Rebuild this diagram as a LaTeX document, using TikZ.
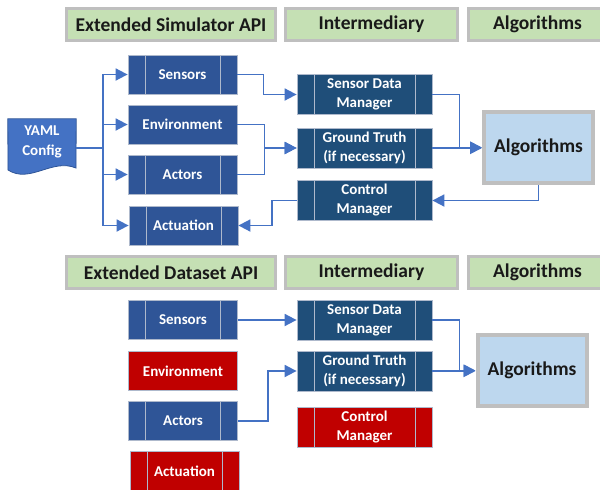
\documentclass[tikz,border=0pt]{standalone}
\usepackage{fontspec}
\setmainfont{Carlito}
\usepackage{tikz}
\usetikzlibrary{arrows.meta, positioning, calc}
\definecolor{HeadGreen}{HTML}{C5E0B4}
\definecolor{HeadGray}{HTML}{BFBFBF}
\definecolor{ApiBlue}{HTML}{2F5597}
\definecolor{MidBlue}{HTML}{1F4E79}
\definecolor{LineBlue}{HTML}{4472C4}
\definecolor{AlgBlue}{HTML}{BDD7EE}
\definecolor{OffRed}{HTML}{C00000}
\definecolor{EdgeGray}{HTML}{AEB9CC}

\begin{document}
\begin{tikzpicture}[x=1pt, y=-1pt,
    hdr/.style={rectangle, fill=HeadGreen, draw=HeadGray, line width=3pt,
        minimum width=#1, minimum height=32pt, inner sep=0pt,
        font=\fontsize{19.5}{22}\selectfont\bfseries, text=black!90},
    hdr/.default=172pt,
    plainbox/.style={rectangle, fill=#1, draw=EdgeGray, line width=0.8pt,
        minimum width=109pt, minimum height=39pt, inner sep=0pt, text=white,
        align=center, font=\fontsize{15}{19}\selectfont\bfseries},
    procbox/.style={plainbox=#1,
        path picture={
            \draw[EdgeGray, line width=0.8pt]
                ([xshift=17pt]path picture bounding box.north west) --
                ([xshift=17pt]path picture bounding box.south west)
                ([xshift=-17pt]path picture bounding box.north east) --
                ([xshift=-17pt]path picture bounding box.south east);}},
    midbox/.style={procbox=#1, minimum width=135pt, minimum height=40pt},
    algbox/.style={rectangle, fill=AlgBlue, draw=HeadGray, line width=4pt,
        minimum width=109pt, minimum height=71pt,
        font=\fontsize{19.5}{22}\selectfont\bfseries, text=black!90},
    flow/.style={-{Triangle[length=12pt, width=12pt]}, line width=1.8pt, LineBlue},
    wire/.style={line width=1.8pt, LineBlue}]

    \useasboundingbox (0,0) rectangle (600,490);

    % Headers
    \node[hdr=209pt] (hsim) at (171,24.5) {Extended Simulator API};
    \node[hdr] (hint) at (371.5,24.5) {Intermediary};
    \node[hdr=138pt] (halg) at (537.5,24.5) {Algorithms};

    \node[hdr=209pt] (hdat) at (171,272.5) {Extended Dataset API};
    \node[hdr] (hint2) at (371.5,272.5) {Intermediary};
    \node[hdr=138pt] (halg2) at (537.5,272.5) {Algorithms};

    % Simulator side
    \node[rectangle, minimum width=68pt, minimum height=53pt, inner sep=0pt]
          (yaml) at (42,145.5) {};
    \filldraw[fill=LineBlue, draw=ApiBlue, line width=0.8pt]
        (yaml.north west) -- (yaml.north east) -- (76,168)
        .. controls (52,158) and (30,184) .. (8,170) -- cycle;
    \node[text=white, align=center, font=\fontsize{15}{20}\selectfont\bfseries]
        (yamltext) at (42,142) {YAML\\Config};

    \node[procbox=ApiBlue] (sens1) at (182.5,74.5) {Sensors};
    \node[plainbox=ApiBlue] (env1) at (182.5,124.5) {Environment};
    \node[procbox=ApiBlue] (act1) at (182.5,174.5) {Actors};
    \node[procbox=ApiBlue] (actu1) at (183.5,225.5) {Actuation};

    \node[midbox=MidBlue] (sdm1) at (364.5,94.5) {Sensor Data\\Manager};
    \node[midbox=MidBlue] (gt1) at (364.5,148) {Ground Truth\\(if necessary)};
    \node[midbox=MidBlue] (cm1) at (364.5,200.5) {Control\\Manager};

    \node[algbox] (alg1) at (538.5,147.5) {Algorithms};

    % Dataset side
    \node[procbox=ApiBlue] (sens2) at (183,320) {Sensors};
    \node[plainbox=OffRed] (env2) at (183,371) {Environment};
    \node[procbox=ApiBlue] (act2) at (183,421) {Actors};
    \node[procbox=OffRed] (actu2) at (184.5,471) {Actuation};

    \node[midbox=MidBlue] (sdm2) at (364.5,320) {Sensor Data\\Manager};
    \node[midbox=MidBlue] (gt2) at (364.5,371) {Ground Truth\\(if necessary)};
    \node[midbox=OffRed] (cm2) at (364.5,427) {Control\\Manager};

    \node[algbox] (alg2) at (532,370.5) {Algorithms};

    % Arrows (simulator)
    \coordinate (fork) at (103,148);
    \draw[wire] (yaml.east |- fork) -- (fork);
    \foreach \b in {sens1, env1, act1, actu1}
        \draw[flow] (fork) |- (\b.west);
    \draw[flow] (sens1.east) -- ++(26,0) |- (sdm1.west);
    \draw[flow] (env1.east) -- ++(27,0) |- (gt1.west);
    \draw[flow] (act1.east) -- ++(27,0) |- (gt1.west);
    \draw[flow] (cm1.west) -- ++(-25,0) |- (actu1.east);
    \draw[flow] (sdm1.east) -- ++(27,0) |- (alg1.west);
    \draw[flow] (gt1.east) -- (gt1.east -| alg1.west);
    \draw[flow] (alg1.south) |- (cm1.east);

    % Arrows (dataset)
    \draw[flow] (sens2.east) -- (sdm2.west);
    \draw[flow] (act2.east) -- ++(30,0) |- (gt2.west);
    \draw[flow] (sdm2.east) -- ++(27,0) |- (alg2.west);
    \draw[flow] (gt2.east) -- (gt2.east -| alg2.west);
\end{tikzpicture}
\end{document}
